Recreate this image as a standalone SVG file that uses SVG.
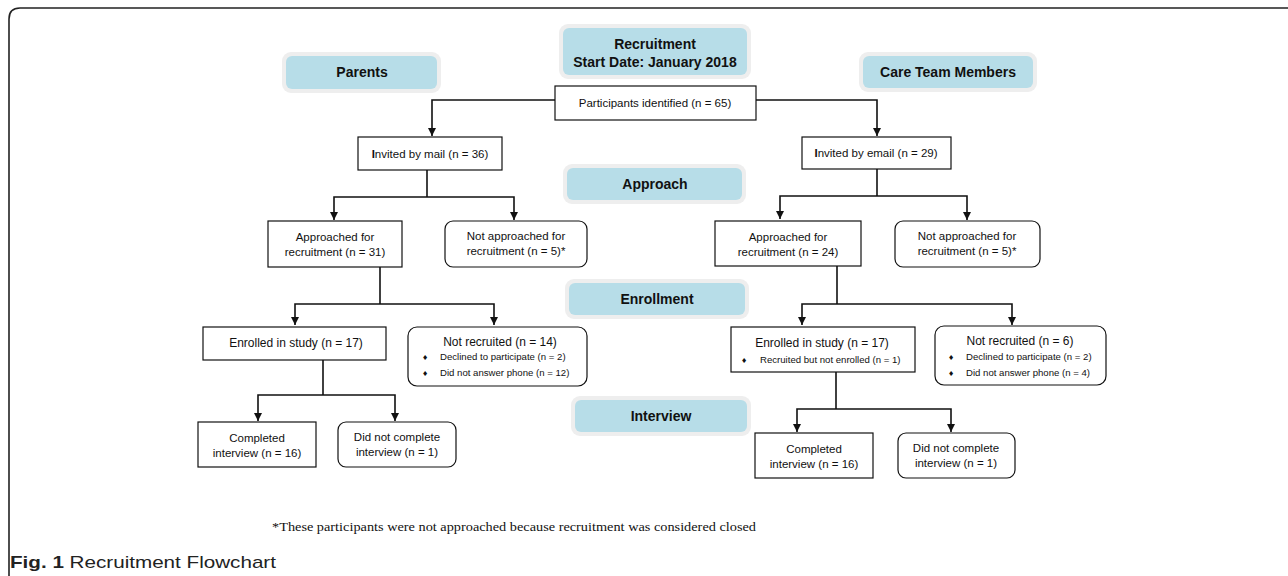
<svg xmlns="http://www.w3.org/2000/svg" width="1288" height="576" viewBox="0 0 1288 576">
<style>
.halo{fill:#eeeeee}
.pill{fill:#b7dde8}
.ph{font-family:"Liberation Sans",Arial,sans-serif;font-size:14px;font-weight:bold;fill:#111;text-anchor:middle}
.box{fill:#fff;stroke:#111;stroke-width:1.2}
.t{font-family:"Liberation Sans",Arial,sans-serif;font-size:11.5px;fill:#111;text-anchor:middle}
.t2{font-family:"Liberation Sans",Arial,sans-serif;font-size:12px;fill:#111;text-anchor:middle}
.b{font-family:"Liberation Sans",Arial,sans-serif;font-size:9.6px;fill:#111}
.d{font-family:"DejaVu Sans",sans-serif;font-size:7px;fill:#111}
.c{fill:none;stroke:#111;stroke-width:1.6}
</style>
<defs>
<marker id="ah" viewBox="0 0 8 8" refX="8" refY="4" markerWidth="8" markerHeight="8" markerUnits="userSpaceOnUse" orient="auto">
<path d="M0,0 L8,4 L0,8 Z" fill="#111"/>
</marker>
</defs>
<rect width="1288" height="576" fill="#fff"/>
<path d="M9,576 V19 Q9,8 20,8 H1288" fill="none" stroke="#222" stroke-width="1.6"/>

<g id="pill-recruitment"><rect class="halo" x="559" y="24" width="192" height="55" rx="9"/><rect class="pill" x="563" y="28" width="184" height="47" rx="6"/><text class="ph" x="655" y="49">Recruitment</text><text class="ph" x="655" y="67">Start Date: January 2018</text></g>
<g id="pill-parents"><rect class="halo" x="282" y="52" width="159" height="41" rx="9"/><rect class="pill" x="286" y="56" width="151" height="33" rx="6"/><text class="ph" x="362" y="77">Parents</text></g>
<g id="pill-care"><rect class="halo" x="859" y="52" width="178" height="40" rx="9"/><rect class="pill" x="863" y="56" width="170" height="32" rx="6"/><text class="ph" x="948" y="77">Care Team Members</text></g>
<g id="pill-approach"><rect class="halo" x="563" y="164" width="183" height="40" rx="9"/><rect class="pill" x="567" y="168" width="175" height="32" rx="6"/><text class="ph" x="655" y="189">Approach</text></g>
<g id="pill-enrollment"><rect class="halo" x="565" y="279" width="184" height="40" rx="9"/><rect class="pill" x="569" y="283" width="176" height="32" rx="6"/><text class="ph" x="657" y="304">Enrollment</text></g>
<g id="pill-interview"><rect class="halo" x="571" y="396" width="180" height="40" rx="9"/><rect class="pill" x="575" y="400" width="172" height="32" rx="6"/><text class="ph" x="661" y="421">Interview</text></g>

<g id="connectors">
<path class="c" d="M555,100 H432 V136" marker-end="url(#ah)"/>
<path class="c" d="M756,100 H877 V136" marker-end="url(#ah)"/>
<path class="c" d="M427,170 V197"/>
<path class="c" d="M427,197 H334 V220" marker-end="url(#ah)"/>
<path class="c" d="M427,197 H514 V220" marker-end="url(#ah)"/>
<path class="c" d="M877,169 V196"/>
<path class="c" d="M877,196 H780 V219" marker-end="url(#ah)"/>
<path class="c" d="M877,196 H967 V220" marker-end="url(#ah)"/>
<path class="c" d="M380,267 V304"/>
<path class="c" d="M380,304 H295 V325" marker-end="url(#ah)"/>
<path class="c" d="M380,304 H494 V325" marker-end="url(#ah)"/>
<path class="c" d="M837,266 V304"/>
<path class="c" d="M837,304 H802 V325" marker-end="url(#ah)"/>
<path class="c" d="M837,304 H1012 V325" marker-end="url(#ah)"/>
<path class="c" d="M323,360 V395"/>
<path class="c" d="M323,395 H258 V421" marker-end="url(#ah)"/>
<path class="c" d="M323,395 H395 V421" marker-end="url(#ah)"/>
<path class="c" d="M836,372 V409"/>
<path class="c" d="M836,409 H797 V432" marker-end="url(#ah)"/>
<path class="c" d="M836,409 H951 V432" marker-end="url(#ah)"/>
</g>

<g id="n-identified"><rect class="box" x="555" y="86" width="201" height="34"/><text class="t" x="655" y="107" font-size="12.4">Participants identified (n = 65)</text></g>
<g id="n-mail"><rect class="box" x="358" y="137" width="144" height="33"/><text class="t" x="430" y="158"><tspan font-weight="bold">I</tspan>nvited by mail (n = 36)</text></g>
<g id="n-email"><rect class="box" x="802" y="137" width="149" height="32"/><text class="t" x="876" y="157"><tspan font-weight="bold">I</tspan>nvited by email (n = 29)</text></g>
<g id="n-appr-l"><rect class="box" x="268" y="221" width="134" height="46"/><text class="t" x="335" y="241">Approached for</text><text class="t" x="335" y="256">recruitment (n = 31)</text></g>
<g id="n-notappr-l"><rect class="box" x="445" y="221" width="142" height="46" rx="8"/><text class="t" x="516" y="240">Not approached for</text><text class="t" x="516" y="255">recruitment (n = 5)*</text></g>
<g id="n-appr-r"><rect class="box" x="715" y="221" width="146" height="45"/><text class="t" x="788" y="241">Approached for</text><text class="t" x="788" y="256">recruitment (n = 24)</text></g>
<g id="n-notappr-r"><rect class="box" x="895" y="221" width="145" height="46" rx="8"/><text class="t" x="967" y="240">Not approached for</text><text class="t" x="967" y="255">recruitment (n = 5)*</text></g>
<g id="n-enrolled-l"><rect class="box" x="203" y="327" width="183" height="33"/><text class="t2" x="296" y="347">Enrolled in study (n = 17)</text></g>
<g id="n-notrec-l"><rect class="box" x="408" y="327" width="179" height="59" rx="9"/><text class="t2" x="500" y="346">Not recruited (n = 14)</text><text class="d" x="422" y="360">♦</text><text class="b" x="440" y="360">Declined to participate (n = 2)</text><text class="d" x="422" y="376">♦</text><text class="b" x="440" y="376">Did not answer phone (n = 12)</text></g>
<g id="n-enrolled-r"><rect class="box" x="731" y="327" width="184" height="45"/><text class="t2" x="822" y="347">Enrolled in study (n = 17)</text><text class="d" x="741" y="363">♦</text><text class="b" x="760" y="363">Recruited but not enrolled (n = 1)</text></g>
<g id="n-notrec-r"><rect class="box" x="935" y="326" width="171" height="59" rx="9"/><text class="t2" x="1020" y="345">Not recruited (n = 6)</text><text class="d" x="948" y="360">♦</text><text class="b" x="966" y="360">Declined to participate (n = 2)</text><text class="d" x="948" y="376">♦</text><text class="b" x="966" y="376">Did not answer phone (n = 4)</text></g>
<g id="n-comp-l"><rect class="box" x="198" y="422" width="118" height="45"/><text class="t" x="257" y="442">Completed</text><text class="t" x="257" y="457">interview (n = 16)</text></g>
<g id="n-notcomp-l"><rect class="box" x="338" y="422" width="118" height="45" rx="8"/><text class="t" x="397" y="441">Did not complete</text><text class="t" x="397" y="456">interview (n = 1)</text></g>
<g id="n-comp-r"><rect class="box" x="755" y="433" width="118" height="45"/><text class="t" x="814" y="453">Completed</text><text class="t" x="814" y="468">interview (n = 16)</text></g>
<g id="n-notcomp-r"><rect class="box" x="898" y="433" width="117" height="45" rx="8"/><text class="t" x="956" y="452">Did not complete</text><text class="t" x="956" y="467">interview (n = 1)</text></g>

<text x="272" y="531" font-family="'Liberation Serif','Times New Roman',serif" font-size="11.5" fill="#111" textLength="484" lengthAdjust="spacingAndGlyphs">*These participants were not approached because recruitment was considered closed</text>
<text x="10" y="568" font-family="'Liberation Sans',Arial,sans-serif" font-size="17" fill="#222" textLength="266" lengthAdjust="spacingAndGlyphs"><tspan font-weight="bold">Fig. 1</tspan> Recruitment Flowchart</text>
</svg>
